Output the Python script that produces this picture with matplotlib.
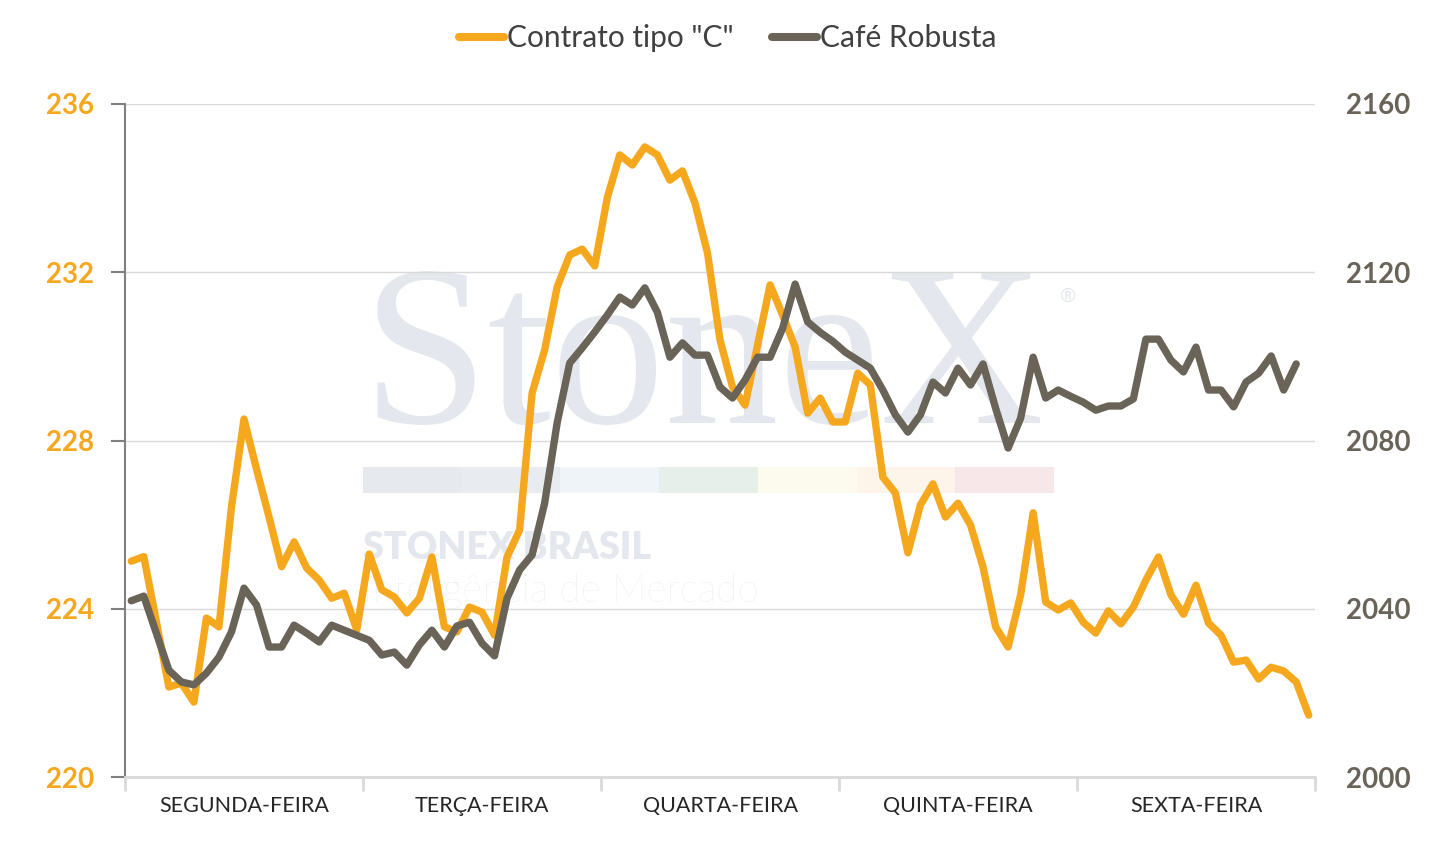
import numpy as np
import matplotlib.pyplot as plt
from matplotlib.patches import Rectangle
from matplotlib.lines import Line2D

plt.rcParams['font.family'] = ['Lato', 'DejaVu Sans']

# dados (5 dias, 19 leituras por dia)
days = ['SEGUNDA-FEIRA', 'TERÇA-FEIRA', 'QUARTA-FEIRA', 'QUINTA-FEIRA', 'SEXTA-FEIRA']
contrato_c = [225.13, 225.24, 223.70, 222.14, 222.23, 221.78, 223.78, 223.57, 226.42, 228.51,
              227.32, 226.18, 225.00, 225.59, 224.97, 224.68, 224.25, 224.37, 223.50, 225.30,
              224.45, 224.28, 223.90, 224.25, 225.23, 223.57, 223.45, 224.04, 223.92, 223.37,
              225.23, 225.87, 229.13, 230.15, 231.65, 232.41, 232.55, 232.15, 233.77, 234.79,
              234.55, 234.98, 234.79, 234.19, 234.41, 233.65, 232.46, 230.39, 229.27, 228.84,
              230.27, 231.70, 230.98, 230.22, 228.65, 229.01, 228.44, 228.44, 229.60, 229.32,
              227.13, 226.75, 225.33, 226.47, 226.97, 226.18, 226.51, 225.99, 224.99, 223.57,
              223.09, 224.33, 226.28, 224.16, 223.97, 224.14, 223.68, 223.42, 223.95, 223.64,
              224.04, 224.68, 225.23, 224.33, 223.87, 224.56, 223.66, 223.37, 222.73, 222.78,
              222.33, 222.61, 222.52, 222.26, 221.47]
robusta = [2041.9, 2043.0, 2034.2, 2025.4, 2022.6, 2021.9, 2024.7, 2028.5, 2034.5, 2044.9,
           2040.9, 2030.9, 2030.9, 2036.1, 2034.2, 2032.1, 2036.1, 2034.9, 2033.7, 2032.5,
           2029.0, 2029.7, 2026.6, 2031.4, 2034.9, 2030.9, 2035.9, 2036.8, 2031.8, 2028.8,
           2042.5, 2049.2, 2052.8, 2065.1, 2084.2, 2098.4, 2102.0, 2105.8, 2109.8, 2114.1,
           2112.2, 2116.3, 2110.5, 2099.8, 2103.2, 2100.3, 2100.3, 2092.7, 2090.1, 2094.4,
           2099.8, 2099.8, 2106.7, 2117.2, 2108.2, 2105.7, 2103.6, 2101.0, 2099.1, 2097.2,
           2092.0, 2086.1, 2082.0, 2086.1, 2093.9, 2091.3, 2097.2, 2093.2, 2098.2, 2087.7,
           2078.2, 2085.3, 2099.8, 2090.1, 2092.0, 2090.5, 2089.1, 2087.2, 2088.2, 2088.2,
           2089.9, 2104.1, 2104.1, 2099.1, 2096.3, 2102.2, 2092.0, 2092.0, 2088.0, 2093.9,
           2096.0, 2100.1, 2092.0, 2098.2, np.nan]
left_ticks = [220, 224, 228, 232, 236]
right_ticks = [2000, 2040, 2080, 2120, 2160]
per_day = 19

ORANGE = '#F5A81E'
GRAY = '#6A6358'
W, H = 1455, 842

fig = plt.figure(figsize=(W / 100, H / 100), dpi=100)
ax = fig.add_axes([125 / W, 1 - 777 / H, 1190 / W, 673 / H])

# marca d'agua
wm = '#E4E8EE'
ax.text(362 / W, 1 - 423 / H, 'StoneX', transform=fig.transFigure, fontsize=164,
        family='Liberation Serif', color=wm, ha='left', va='baseline', zorder=0.1)
ax.text(1068 / W, 1 - 296 / H, '®', transform=fig.transFigure, fontsize=14,
        color=wm, ha='center', va='center', zorder=0.1)
bar_colors = ['#E6E9EE', '#E8ECF0', '#EFF4F9', '#E6EFEA', '#FDFAEE', '#FEF5EA', '#F7E7E9']
seg = (1054 - 363) / len(bar_colors)
for k, c in enumerate(bar_colors):
    ax.add_patch(Rectangle(((363 + k * seg) / W, 1 - 493 / H), seg / W, 26 / H,
                           transform=fig.transFigure, color=c, lw=0, zorder=0.1))
ax.text(363 / W, 1 - 559 / H, 'STONEX BRASIL', transform=fig.transFigure, fontsize=27,
        fontweight='heavy', color=wm, ha='left', va='baseline', zorder=0.1)
ax.text(363 / W, 1 - 602 / H, 'Inteligência de Mercado', transform=fig.transFigure,
        fontsize=28, fontweight='light', color=wm, ha='left', va='baseline', zorder=0.1)

x = np.arange(len(contrato_c))
ax.plot(x, contrato_c, color=ORANGE, lw=5.3, solid_joinstyle='round', solid_capstyle='round')
ax.set_xlim(-0.5, len(x) - 0.5)
ax.set_ylim(left_ticks[0], left_ticks[-1])
ax.set_yticks(left_ticks)
ax.grid(axis='y', color='#D9D9D9', lw=1)
ax.set_axisbelow(True)

ax.set_xticks(np.arange(0, len(x) + 1, per_day) - 0.5)
ax.set_xticklabels([])
ax.set_xticks(np.arange(len(days)) * per_day + (per_day - 1) / 2, minor=True)
ax.set_xticklabels(days, minor=True)
ax.tick_params(axis='x', which='major', length=10, width=2, color='#D9D9D9')
ax.tick_params(axis='x', which='minor', length=0, pad=14, labelsize=15.5, labelcolor='#262626')
ax.tick_params(axis='y', length=10, width=1.5, color='#808080', pad=12,
               labelsize=20, labelcolor=ORANGE)
for lab in ax.get_yticklabels():
    lab.set_fontweight('bold')

for s in ['top', 'right']:
    ax.spines[s].set_visible(False)
ax.spines['left'].set_color('#808080')
ax.spines['left'].set_linewidth(1.5)
ax.spines['bottom'].set_color('#D9D9D9')
ax.spines['bottom'].set_linewidth(2)

ax2 = ax.twinx()
ax2.plot(x, robusta, color=GRAY, lw=5.3, solid_joinstyle='round', solid_capstyle='round')
ax2.set_ylim(right_ticks[0], right_ticks[-1])
ax2.set_yticks(right_ticks)
ax2.tick_params(axis='y', length=0, pad=22, labelsize=20, labelcolor=GRAY)
for lab in ax2.get_yticklabels():
    lab.set_fontweight('bold')
for s in ax2.spines.values():
    s.set_visible(False)

handles = [Line2D([], [], color=ORANGE, lw=5.8, solid_capstyle='round'),
           Line2D([], [], color=GRAY, lw=5.8, solid_capstyle='round')]
leg = fig.legend(handles, ['Contrato tipo "C"', 'Café Robusta'], loc='center',
                 bbox_to_anchor=(0.5, 1 - 38 / H), ncol=2, frameon=False, fontsize=21.5,
                 handlelength=1.5, handletextpad=0.1, columnspacing=1.3)
for t in leg.get_texts():
    t.set_color('#404040')

fig.savefig('out.png', dpi=100)
